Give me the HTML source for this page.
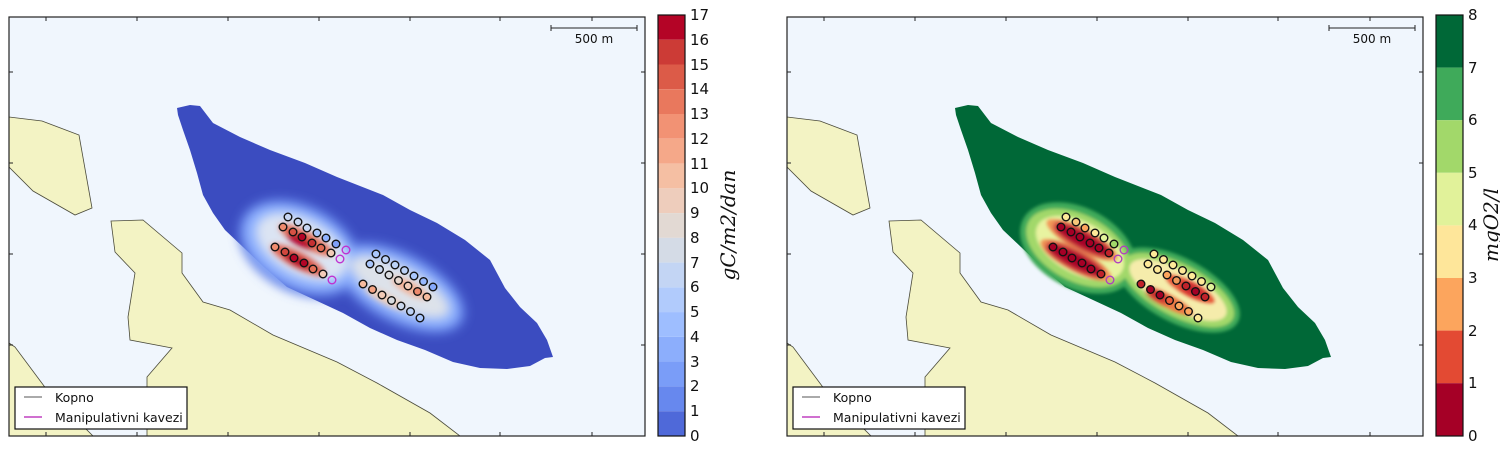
<!DOCTYPE html>
<html><head><meta charset="utf-8"><style>
html,body{margin:0;padding:0;background:#fff;}
svg{display:block;}
text{font-family:"DejaVu Sans","Liberation Sans",sans-serif;}
</style></head><body>
<svg width="1500" height="451" viewBox="0 0 1500 451" xmlns="http://www.w3.org/2000/svg">
<defs>
  <clipPath id="ax"><rect x="9" y="17" width="636" height="419"/></clipPath>
  <path id="isl" d="M9,117 L42,121 L79,135 L92,208 L75,215 L33,191 L9,167 Z"/>
  <path id="main" d="M111,221 L143,220 L182,253 L182,273 L203,302 L230,310 L273,335 L337,362 L377,383 L430,413 L460,436 L147,436 L147,377 L172,348 L130,340 L128,317 L135,273 L115,252 Z"/>
  <path id="bl" d="M9,343 L15,347 L47,390 L93,436 L9,436 Z"/>
  <path id="plume" d="M177,108 L190,105 L200,106 L213,123 L240,137 L270,150 L305,163 L337,177 L383,195 L410,210 L437,223 L465,240 L490,260 L505,288 L520,307 L537,323 L547,340 L553,357 L545,358 L530,366 L507,369 L480,368 L453,362 L425,350 L397,340 L370,328 L343,313 L315,300 L287,287 L265,268 L243,247 L225,230 L213,213 L203,195 L197,173 L190,150 L183,130 L178,115 Z"/>
  <filter id="b6" x="-50%" y="-50%" width="200%" height="200%"><feGaussianBlur stdDeviation="5"/></filter>
  <filter id="b3" x="-50%" y="-50%" width="200%" height="200%"><feGaussianBlur stdDeviation="3"/></filter>
  <filter id="b2" x="-50%" y="-50%" width="200%" height="200%"><feGaussianBlur stdDeviation="1.5"/></filter>
</defs>

<!-- LEFT PLOT -->
<g clip-path="url(#ax)">
  <rect x="9" y="17" width="636" height="419" fill="#f0f6fd"/>
  <g fill="#f3f3c4" stroke="#4a4a3a" stroke-width="0.8">
    <use href="#isl"/><use href="#main"/><use href="#bl"/>
  </g>
  <use href="#plume" fill="#3b4cc0"/>
  <g filter="url(#b6)">
    <ellipse cx="300" cy="248" rx="66" ry="44" transform="rotate(28 300 248)" fill="#5f7fe6"/>
    <ellipse cx="400" cy="288" rx="72" ry="36" transform="rotate(28 400 288)" fill="#5f7fe6"/>
    <ellipse cx="300" cy="248" rx="60" ry="37" transform="rotate(28 300 248)" fill="#8eb0fe"/>
    <ellipse cx="400" cy="288" rx="65" ry="29" transform="rotate(28 400 288)" fill="#8eb0fe"/>
  </g>
  <g filter="url(#b6)">
    <ellipse cx="302" cy="247" rx="50" ry="28" transform="rotate(28 302 247)" fill="#dbe4f3"/>
    <ellipse cx="400" cy="287" rx="55" ry="20" transform="rotate(28 400 287)" fill="#dde2ea"/>
  </g>
  <g filter="url(#b3)">
    <ellipse cx="306" cy="240" rx="30" ry="8" transform="rotate(28 306 240)" fill="#e57058"/>
    <ellipse cx="298" cy="260" rx="30" ry="8" transform="rotate(28 298 260)" fill="#e06050"/>
    <ellipse cx="300" cy="241" rx="15" ry="5" transform="rotate(28 300 241)" fill="#b40426"/>
    <ellipse cx="297" cy="261" rx="15" ry="5" transform="rotate(28 297 261)" fill="#b40426"/>
    <ellipse cx="410" cy="288" rx="20" ry="6" transform="rotate(28 410 288)" fill="#f2b196"/>
    <ellipse cx="385" cy="298" rx="22" ry="5" transform="rotate(28 385 298)" fill="#f0cdb8"/>
  </g>
  <g fill="none" stroke="#111" stroke-width="1.4">
    <circle cx="288" cy="217" r="3.8" fill="#c7d6f2"/><circle cx="298" cy="222" r="3.8" fill="#c7d6f2"/><circle cx="307" cy="228" r="3.8" fill="#c7d6f2"/><circle cx="317" cy="233" r="3.8" fill="#aac6fc"/><circle cx="326" cy="238" r="3.8" fill="#90b2fe"/><circle cx="336" cy="244" r="3.8" fill="#7fa0f8"/>
    <circle cx="283" cy="227" r="3.8" fill="#ef8a6d"/><circle cx="293" cy="232" r="3.8" fill="#d65244"/><circle cx="302" cy="237" r="3.8" fill="#b40426"/><circle cx="312" cy="243" r="3.8" fill="#c43032"/><circle cx="321" cy="248" r="3.8" fill="#e06a53"/><circle cx="331" cy="253" r="3.8" fill="#f2cbb7"/>
    <circle cx="275" cy="247" r="3.8" fill="#f08b6e"/><circle cx="285" cy="252" r="3.8" fill="#d0473d"/><circle cx="294" cy="258" r="3.8" fill="#b40426"/><circle cx="304" cy="263" r="3.8" fill="#b40426"/><circle cx="313" cy="269" r="3.8" fill="#e46e56"/><circle cx="323" cy="274" r="3.8" fill="#f2cbb7"/>
    <circle cx="376" cy="254" r="3.8" fill="#aac7fd"/><circle cx="385.5" cy="259.5" r="3.8" fill="#bcd2f7"/><circle cx="395" cy="265" r="3.8" fill="#bcd2f7"/><circle cx="404.5" cy="270.5" r="3.8" fill="#bcd2f7"/><circle cx="414" cy="276" r="3.8" fill="#aac7fd"/><circle cx="423.5" cy="281.5" r="3.8" fill="#98b9ff"/><circle cx="433" cy="287" r="3.8" fill="#86a9fc"/>
    <circle cx="370" cy="264" r="3.8" fill="#aac7fd"/><circle cx="379.5" cy="269.5" r="3.8" fill="#cbd8ee"/><circle cx="389" cy="275" r="3.8" fill="#dadce0"/><circle cx="398.5" cy="280.5" r="3.8" fill="#e7d7ce"/><circle cx="408" cy="286" r="3.8" fill="#f2cbb7"/><circle cx="417.5" cy="291.5" r="3.8" fill="#ef8a6d"/><circle cx="427" cy="297" r="3.8" fill="#f6bb9f"/>
    <circle cx="363" cy="284" r="3.8" fill="#f6bb9f"/><circle cx="372.5" cy="289.5" r="3.8" fill="#f5a586"/><circle cx="382" cy="295" r="3.8" fill="#f2cbb7"/><circle cx="391.5" cy="300.5" r="3.8" fill="#dadce0"/><circle cx="401" cy="306" r="3.8" fill="#cbd8ee"/><circle cx="410.5" cy="311.5" r="3.8" fill="#bcd2f7"/><circle cx="420" cy="318" r="3.8" fill="#aac7fd"/>
  </g>
  <g fill="none" stroke="#c030d0" stroke-width="1.4">
    <circle cx="346" cy="250" r="3.8"/><circle cx="340" cy="259" r="3.8"/><circle cx="332" cy="280" r="3.8"/>
  </g>
</g>
<rect x="9" y="17" width="636" height="419" fill="none" stroke="#222" stroke-width="1.2"/>
<g stroke="#222" stroke-width="1">
  <path d="M46,17v4 M137,17v4 M228,17v4 M319,17v4 M410,17v4 M500,17v4 M592,17v4 M46,436v-4 M137,436v-4 M228,436v-4 M319,436v-4 M410,436v-4 M500,436v-4 M592,436v-4 M9,72h4 M9,163h4 M9,254h4 M9,345h4 M645,72h-4 M645,163h-4 M645,254h-4 M645,345h-4"/>
  <path d="M551,28h86 M551,25v6 M637,25v6"/>
</g>
<text x="594" y="43" font-size="12" text-anchor="middle" fill="#111">500 m</text>
<rect x="15" y="387" width="172" height="42" fill="#fff" stroke="#111" stroke-width="1.2"/>
<line x1="24" y1="397" x2="42" y2="397" stroke="#777" stroke-width="1.2"/>
<line x1="24" y1="417" x2="42" y2="417" stroke="#c040c0" stroke-width="1.5"/>
<text x="55" y="402" font-size="12.5" fill="#111">Kopno</text>
<text x="55" y="422" font-size="12.5" fill="#111">Manipulativni kavezi</text>

<!-- LEFT COLORBAR -->
<g>
  <rect x="658" y="15" width="27" height="24.76" fill="#b40426"/>
  <rect x="658" y="39.76" width="27" height="24.76" fill="#cc3b36"/>
  <rect x="658" y="64.5" width="27" height="24.76" fill="#dc5b48"/>
  <rect x="658" y="89.3" width="27" height="24.76" fill="#e9785d"/>
  <rect x="658" y="114" width="27" height="24.76" fill="#f29274"/>
  <rect x="658" y="138.8" width="27" height="24.76" fill="#f5a889"/>
  <rect x="658" y="163.6" width="27" height="24.76" fill="#f5bfa3"/>
  <rect x="658" y="188.3" width="27" height="24.76" fill="#eecdbc"/>
  <rect x="658" y="213.1" width="27" height="24.76" fill="#e2d9d3"/>
  <rect x="658" y="237.8" width="27" height="24.76" fill="#d4dbe6"/>
  <rect x="658" y="262.6" width="27" height="24.76" fill="#c3d5f4"/>
  <rect x="658" y="287.4" width="27" height="24.76" fill="#b1cbfc"/>
  <rect x="658" y="312.1" width="27" height="24.76" fill="#9ebeff"/>
  <rect x="658" y="336.9" width="27" height="24.76" fill="#8caefc"/>
  <rect x="658" y="361.6" width="27" height="24.76" fill="#7a9df8"/>
  <rect x="658" y="386.4" width="27" height="24.76" fill="#6788ee"/>
  <rect x="658" y="411.2" width="27" height="24.8" fill="#4f69d9"/>
  <rect x="658" y="15" width="27" height="421" fill="none" stroke="#111" stroke-width="1.2"/>
</g>
<g font-size="15" fill="#111">
  <text x="690" y="20">17</text><text x="690" y="45">16</text><text x="690" y="70">15</text><text x="690" y="94">14</text><text x="690" y="119">13</text><text x="690" y="144">12</text><text x="690" y="169">11</text><text x="690" y="193">10</text><text x="690" y="218">9</text><text x="690" y="243">8</text><text x="690" y="268">7</text><text x="690" y="292">6</text><text x="690" y="317">5</text><text x="690" y="342">4</text><text x="690" y="367">3</text><text x="690" y="391">2</text><text x="690" y="416">1</text><text x="690" y="441">0</text>
</g>
<text transform="translate(735,225) rotate(-90)" font-size="20" font-style="italic" text-anchor="middle" style="font-family:'DejaVu Serif','Liberation Serif',serif" fill="#111">gC/m2/dan</text>

<!-- RIGHT PLOT -->
<g transform="translate(778,0)">
<g clip-path="url(#ax)">
  <rect x="9" y="17" width="636" height="419" fill="#f0f6fd"/>
  <g fill="#f3f3c4" stroke="#4a4a3a" stroke-width="0.8">
    <use href="#isl"/><use href="#main"/><use href="#bl"/>
  </g>
  <use href="#plume" fill="#006837"/>
  <g filter="url(#b2)">
    <ellipse cx="300" cy="248" rx="62" ry="40" transform="rotate(28 300 248)" fill="#3faa5a"/>
    <ellipse cx="400" cy="290" rx="68" ry="32" transform="rotate(28 400 290)" fill="#3faa5a"/>
    <ellipse cx="300" cy="248" rx="56" ry="33" transform="rotate(28 300 248)" fill="#a2d86a"/>
    <ellipse cx="400" cy="290" rx="62" ry="26" transform="rotate(28 400 290)" fill="#a2d86a"/>
    <ellipse cx="302" cy="248" rx="48" ry="26" transform="rotate(28 302 248)" fill="#e8f3a0"/>
    <ellipse cx="400" cy="290" rx="54" ry="20" transform="rotate(28 400 290)" fill="#f5ecab"/>
    <ellipse cx="304" cy="240" rx="40" ry="11" transform="rotate(28 304 240)" fill="#f29a5a"/>
    <ellipse cx="298" cy="260" rx="40" ry="11" transform="rotate(28 298 260)" fill="#f29a5a"/>
    <ellipse cx="412" cy="289" rx="28" ry="8" transform="rotate(28 412 289)" fill="#e75b3b"/>
    <ellipse cx="392" cy="302" rx="26" ry="7" transform="rotate(28 392 302)" fill="#ec7a45"/>
  </g>
  <g filter="url(#b3)">
    <ellipse cx="305" cy="240" rx="32" ry="8" transform="rotate(28 305 240)" fill="#a50026"/>
    <ellipse cx="297" cy="260" rx="32" ry="8" transform="rotate(28 297 260)" fill="#a50026"/>
    <ellipse cx="415" cy="290" rx="14" ry="4" transform="rotate(28 415 290)" fill="#b7102a"/>
    <ellipse cx="380" cy="296" rx="12" ry="4" transform="rotate(28 380 296)" fill="#c0222b"/>
  </g>
  <g fill="none" stroke="#111" stroke-width="1.4">
    <circle cx="288" cy="217" r="3.8" fill="#fee999"/><circle cx="298" cy="222" r="3.8" fill="#f8c77a"/><circle cx="307" cy="228" r="3.8" fill="#fca55d"/><circle cx="317" cy="233" r="3.8" fill="#fee999"/><circle cx="326" cy="238" r="3.8" fill="#e1f29a"/><circle cx="336" cy="244" r="3.8" fill="#a2d86a"/>
    <circle cx="283" cy="227" r="3.8" fill="#a50026"/><circle cx="293" cy="232" r="3.8" fill="#a50026"/><circle cx="302" cy="237" r="3.8" fill="#a50026"/><circle cx="312" cy="243" r="3.8" fill="#a50026"/><circle cx="321" cy="248" r="3.8" fill="#a50026"/><circle cx="331" cy="253" r="3.8" fill="#c0222b"/>
    <circle cx="275" cy="247" r="3.8" fill="#a50026"/><circle cx="285" cy="252" r="3.8" fill="#a50026"/><circle cx="294" cy="258" r="3.8" fill="#a50026"/><circle cx="304" cy="263" r="3.8" fill="#a50026"/><circle cx="313" cy="269" r="3.8" fill="#a50026"/><circle cx="323" cy="274" r="3.8" fill="#c0222b"/>
    <circle cx="376" cy="254" r="3.8" fill="#fee999"/><circle cx="385.5" cy="259.5" r="3.8" fill="#fee999"/><circle cx="395" cy="265" r="3.8" fill="#fee999"/><circle cx="404.5" cy="270.5" r="3.8" fill="#fee999"/><circle cx="414" cy="276" r="3.8" fill="#fee999"/><circle cx="423.5" cy="281.5" r="3.8" fill="#fee999"/><circle cx="433" cy="287" r="3.8" fill="#e1f29a"/>
    <circle cx="370" cy="264" r="3.8" fill="#fee999"/><circle cx="379.5" cy="269.5" r="3.8" fill="#fee999"/><circle cx="389" cy="275" r="3.8" fill="#fca55d"/><circle cx="398.5" cy="280.5" r="3.8" fill="#f29a5a"/><circle cx="408" cy="286" r="3.8" fill="#c0222b"/><circle cx="417.5" cy="291.5" r="3.8" fill="#a50026"/><circle cx="427" cy="297" r="3.8" fill="#c0222b"/>
    <circle cx="363" cy="284" r="3.8" fill="#c0222b"/><circle cx="372.5" cy="289.5" r="3.8" fill="#a50026"/><circle cx="382" cy="295" r="3.8" fill="#a50026"/><circle cx="391.5" cy="300.5" r="3.8" fill="#e75b3b"/><circle cx="401" cy="306" r="3.8" fill="#fca55d"/><circle cx="410.5" cy="311.5" r="3.8" fill="#fca55d"/><circle cx="420" cy="318" r="3.8" fill="#fee999"/>
  </g>
  <g fill="none" stroke="#b040c0" stroke-width="1.4">
    <circle cx="346" cy="250" r="3.8"/><circle cx="340" cy="259" r="3.8"/><circle cx="332" cy="280" r="3.8"/>
  </g>
</g>
<rect x="9" y="17" width="636" height="419" fill="none" stroke="#222" stroke-width="1.2"/>
<g stroke="#222" stroke-width="1">
  <path d="M46,17v4 M137,17v4 M228,17v4 M319,17v4 M410,17v4 M500,17v4 M592,17v4 M46,436v-4 M137,436v-4 M228,436v-4 M319,436v-4 M410,436v-4 M500,436v-4 M592,436v-4 M9,72h4 M9,163h4 M9,254h4 M9,345h4 M645,72h-4 M645,163h-4 M645,254h-4 M645,345h-4"/>
  <path d="M551,28h86 M551,25v6 M637,25v6"/>
</g>
<text x="594" y="43" font-size="12" text-anchor="middle" fill="#111">500 m</text>
<rect x="15" y="387" width="172" height="42" fill="#fff" stroke="#111" stroke-width="1.2"/>
<line x1="24" y1="397" x2="42" y2="397" stroke="#777" stroke-width="1.2"/>
<line x1="24" y1="417" x2="42" y2="417" stroke="#c040c0" stroke-width="1.5"/>
<text x="55" y="402" font-size="12.5" fill="#111">Kopno</text>
<text x="55" y="422" font-size="12.5" fill="#111">Manipulativni kavezi</text>
</g>

<!-- RIGHT COLORBAR -->
<g>
  <rect x="1436" y="15" width="27" height="52.6" fill="#006837"/>
  <rect x="1436" y="67.6" width="27" height="52.6" fill="#3faa5a"/>
  <rect x="1436" y="120.2" width="27" height="52.6" fill="#a2d86a"/>
  <rect x="1436" y="172.8" width="27" height="52.6" fill="#e1f29a"/>
  <rect x="1436" y="225.4" width="27" height="52.6" fill="#fee69a"/>
  <rect x="1436" y="278" width="27" height="52.6" fill="#fca55d"/>
  <rect x="1436" y="330.6" width="27" height="52.6" fill="#e34a33"/>
  <rect x="1436" y="383.2" width="27" height="52.8" fill="#a50026"/>
  <rect x="1436" y="15" width="27" height="421" fill="none" stroke="#111" stroke-width="1.2"/>
</g>
<g font-size="15" fill="#111">
  <text x="1468" y="20">8</text><text x="1468" y="73">7</text><text x="1468" y="125">6</text><text x="1468" y="178">5</text><text x="1468" y="230">4</text><text x="1468" y="283">3</text><text x="1468" y="336">2</text><text x="1468" y="388">1</text><text x="1468" y="441">0</text>
</g>
<text transform="translate(1498,225) rotate(-90)" font-size="20" font-style="italic" text-anchor="middle" style="font-family:'DejaVu Serif','Liberation Serif',serif" fill="#111">mgO2/l</text>
</svg>
</body></html>
